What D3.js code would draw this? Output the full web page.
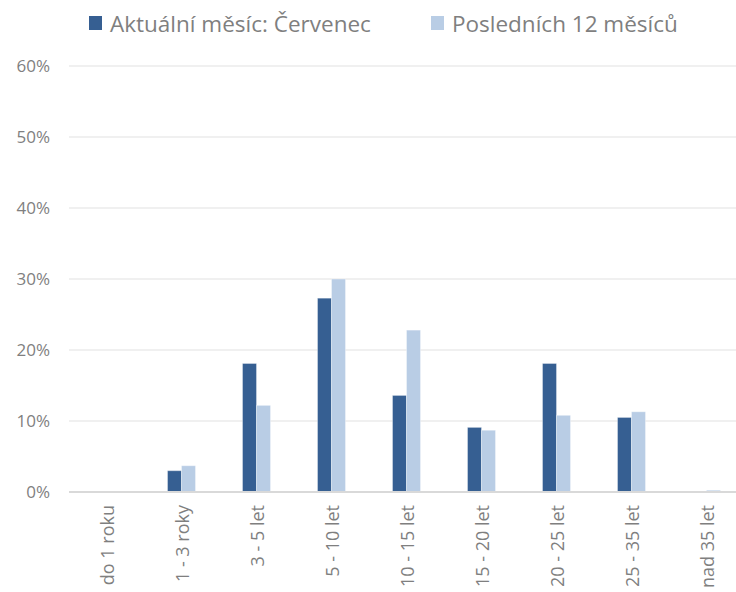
<!DOCTYPE html>
<html>
<head>
<meta charset="utf-8">
<script src="https://cdn.jsdelivr.net/npm/d3@7"></script>
<style>
  body { margin: 0; background: #fff; }
  text { font-family: "Open Sans", "Noto Sans", sans-serif; fill: #7f7f7f; }
</style>
</head>
<body>
<script>
const categories = ['do 1 roku', '1 - 3 roky', '3 - 5 let', '5 - 10 let', '10 - 15 let',
  '15 - 20 let', '20 - 25 let', '25 - 35 let', 'nad 35 let'];
const seriesNames = ['Aktuální měsíc: Červenec', 'Posledních 12 měsíců'];
const current = [0, 3.0, 18.1, 27.3, 13.6, 9.1, 18.1, 10.5, 0];
const last12 = [0, 3.7, 12.2, 30.0, 22.8, 8.7, 10.8, 11.3, 0.25];
const yTicks = [0, 10, 20, 30, 40, 50, 60];

const colors = ['#365f92', '#b9cde5'];
const W = 736, H = 592;

const svg = d3.select('body').append('svg')
  .attr('width', W).attr('height', H);

const x = d3.scaleBand()
  .domain(categories)
  .range([69, 744])
  .paddingInner(0.627)
  .paddingOuter(0.3135);
const x1 = d3.scaleBand()
  .domain([0, 1])
  .range([0, x.bandwidth()]);
const y = d3.scaleLinear().domain([0, 60]).range([492, 66]);

// gridlines
svg.append('g')
  .selectAll('line')
  .data(yTicks.slice(1))
  .join('line')
  .attr('x1', 69).attr('x2', W)
  .attr('y1', d => y(d)).attr('y2', d => y(d))
  .attr('stroke', '#f0f0f0')
  .attr('stroke-width', 2);

// y axis labels
const yAxis = svg.append('g')
  .attr('transform', 'translate(50,0)')
  .call(d3.axisLeft(y).tickValues(yTicks).tickFormat(d => d + '%').tickSize(0).tickPadding(0));
yAxis.select('.domain').remove();
yAxis.selectAll('text')
  .attr('font-size', 17)
  .attr('font-family', null)
  .attr('fill', '#7f7f7f');

// bars
const groups = svg.append('g')
  .selectAll('g')
  .data(categories)
  .join('g')
  .attr('transform', d => `translate(${x(d)},0)`);

groups.selectAll('rect')
  .data((d, i) => [current[i], last12[i]].map((v, s) => ({ v, s })))
  .join('rect')
  .attr('x', d => x1(d.s))
  .attr('width', x1.bandwidth())
  .attr('y', d => y(d.v))
  .attr('height', d => y(0) - y(d.v))
  .attr('fill', d => colors[d.s])
  .attr('stroke', d => d.v > 0 ? '#ffffff' : 'none')
  .attr('stroke-opacity', 0.35)
  .attr('stroke-width', 1);

// x axis
const xAxis = svg.append('g')
  .attr('transform', 'translate(0,492)')
  .call(d3.axisBottom(x).tickSize(0).tickPadding(0));
xAxis.select('.domain')
  .attr('d', `M69,0H${W}`)
  .attr('stroke', '#d9d9d9')
  .attr('stroke-width', 2);
xAxis.selectAll('text')
  .attr('font-size', 18)
  .attr('font-family', null)
  .attr('fill', '#7f7f7f')
  .attr('text-anchor', 'end')
  .attr('dy', null)
  .attr('dominant-baseline', 'central')
  .attr('transform', 'translate(0,13) rotate(-90)');

// legend
const legend = svg.append('g').attr('transform', 'translate(89,16)');
const legendX = [0, 342];
seriesNames.forEach((name, i) => {
  const g = legend.append('g').attr('transform', `translate(${legendX[i]},0)`);
  g.append('rect').attr('width', 13).attr('height', 14).attr('fill', colors[i]);
  g.append('text')
    .attr('x', 21).attr('y', 7)
    .attr('dominant-baseline', 'central')
    .attr('font-size', 22.5)
    .text(name);
});
</script>
</body>
</html>
